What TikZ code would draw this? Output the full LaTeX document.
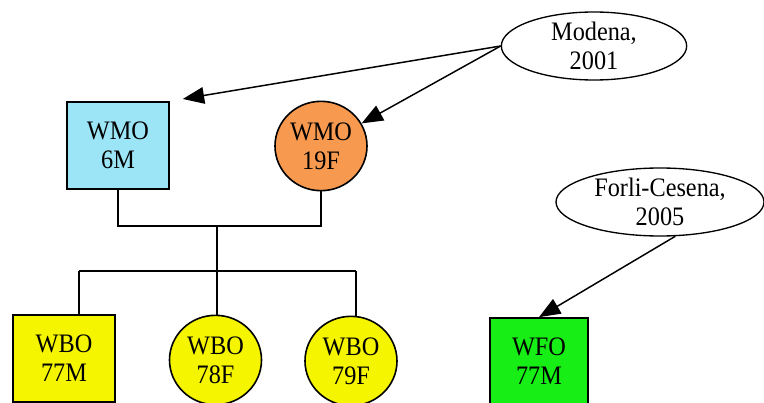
\documentclass[tikz,border=0pt]{standalone}
\usepackage{fontspec}
\setmainfont{Liberation Serif}[FakeStretch=0.91]
\usetikzlibrary{shapes.geometric,arrows.meta}

\definecolor{wmoblue}{RGB}{156,229,246}
\definecolor{wmoorange}{RGB}{247,154,80}
\definecolor{wboyellow}{RGB}{245,245,0}
\definecolor{wfogreen}{RGB}{22,238,22}

\begin{document}
\begin{tikzpicture}[x=0.75pt,y=-0.75pt]
\tikzstyle{every node}+=[inner sep=0pt,align=center,font=\fontsize{20}{21.75}\selectfont]
\tikzstyle{male}=[draw,line width=1.5pt,minimum width=76pt,minimum height=65pt]
\tikzstyle{female}=[draw,ellipse,line width=1.2pt,minimum width=69pt,minimum height=67pt]
\tikzstyle{place}=[draw,ellipse,line width=1pt,minimum height=51pt]
\tikzstyle{link}=[line width=1.6pt]
\tikzstyle{found}=[line width=1.1pt,-{Triangle[length=16pt,width=12.5pt]}]
\useasboundingbox (0,0) rectangle (764,403);
\node [male,fill=wmoblue] (m6) at (118,145.5) {WMO\\6M};
\node [female,fill=wmoorange] (f19) at (321,146) {WMO\\19F};
\node [place,minimum width=139pt] (modena) at (594,46) {Modena,\\2001};
\node [place,minimum width=156pt] (forli) at (660,202) {Forli-Cesena,\\2005};
\node [male,fill=wboyellow] (b77) at (64,358.5) {WBO\\77M};
\node [female,fill=wboyellow] (b78) at (215.5,360) {WBO\\78F};
\node [female,fill=wboyellow] (b79) at (351,361) {WBO\\79F};
\node [male,fill=wfogreen,minimum width=73.5pt] (f77) at (539,361.5) {WFO\\77M};
\coordinate (join) at (217,226);
\coordinate (hub) at (217,271);
\coordinate (bar1) at (79,271);
\coordinate (bar3) at (356,271);
\draw [link] (m6.south) |- (join) -| (f19.south);
\draw [link] (join) -- (hub);
\draw [link] (bar1) -- (bar3);
\draw [link] (bar1) -- (bar1 |- b77.north);
\draw [link] (hub) -- (hub |- b78.north);
\draw [link] (bar3) -- (bar3 |- b79.north);
\draw [found,shorten >=10pt] (modena.west) -- (m6.north east);
\draw [found] (modena.west) -- (f19);
\draw [found] (forli.-66) -- (f77.north);
\end{tikzpicture}
\end{document}
